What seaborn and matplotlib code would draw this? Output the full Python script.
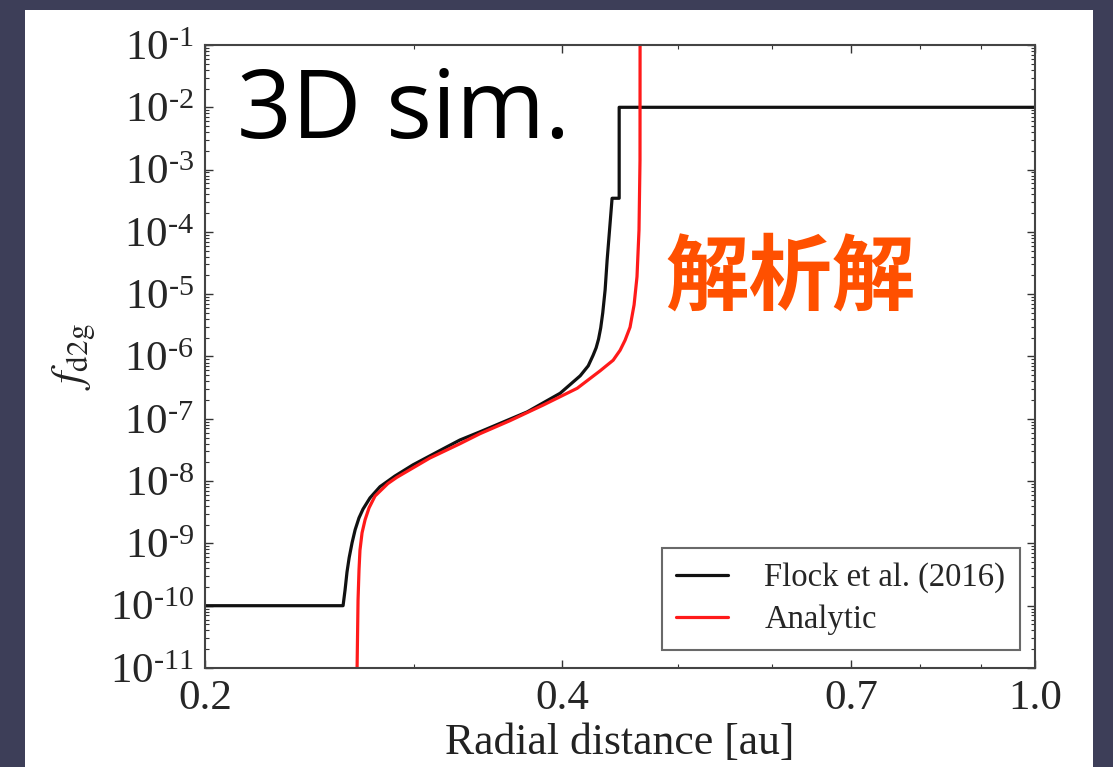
import numpy as np
import pandas as pd
import seaborn as sns
import matplotlib.pyplot as plt
from matplotlib.patches import Rectangle
from matplotlib.ticker import FixedLocator, FixedFormatter, LogLocator, NullFormatter

sns.set_style("ticks")
plt.rcParams['font.family'] = ['Liberation Serif', 'DejaVu Serif']
plt.rcParams['mathtext.fontset'] = 'stix'

# Flock et al. (2016) curve (r in au, log10 f_d2g)
flock_r = [0.2, 0.2614, 0.2624, 0.2634, 0.2645, 0.2660, 0.2676, 0.2696, 0.2717,
           0.2754, 0.2808, 0.2890, 0.2993, 0.3197, 0.3279, 0.3408, 0.3735, 0.3982,
           0.4140, 0.4205, 0.4245, 0.4270, 0.4290, 0.4308, 0.4325, 0.4345, 0.4362,
           0.4379, 0.4396, 0.4404, 0.4465, 0.4465, 1.0]
flock_logf = [-10, -10, -9.75, -9.46, -9.23, -8.99, -8.78, -8.59, -8.45,
              -8.27, -8.09, -7.92, -7.74, -7.45, -7.34, -7.21, -6.89, -6.59,
              -6.31, -6.15, -5.98, -5.86, -5.72, -5.54, -5.30, -4.93, -4.45,
              -4.05, -3.65, -3.46, -3.46, -2.0, -2.0]

# analytic solution
ana_r = [0.2686, 0.2686, 0.2691, 0.2696, 0.2701, 0.2712, 0.2728, 0.2749, 0.2781,
         0.2851, 0.2901, 0.3093, 0.3279, 0.3408, 0.3613, 0.3853, 0.4116, 0.4303,
         0.4413, 0.4473, 0.4516, 0.4560, 0.4596, 0.4622, 0.4640, 0.4649, 0.4650]
ana_logf = [-12, -11, -9.91, -9.43, -9.11, -8.83, -8.62, -8.43, -8.24,
            -8.04, -7.94, -7.63, -7.40, -7.24, -7.03, -6.78, -6.51, -6.23,
            -6.06, -5.90, -5.74, -5.53, -5.17, -4.72, -3.97, -2.85, 0.0]

x_ticks = [0.2, 0.4, 0.7, 1.0]
x_ticklabels = ['0.2', '0.4', '0.7', '1.0']
x_minor = [0.3, 0.5, 0.6, 0.8, 0.9]
y_exponents = list(range(-11, 0))

df = pd.concat([
    pd.DataFrame({'r': flock_r, 'f': np.power(10.0, flock_logf), 'src': 'Flock et al. (2016)'}),
    pd.DataFrame({'r': ana_r, 'f': np.power(10.0, ana_logf), 'src': 'Analytic'}),
], ignore_index=True)

fig = plt.figure(figsize=(11.13, 7.67), dpi=100)
fig.patch.set_facecolor('#3d3e58')
fig.add_artist(Rectangle((25 / 1113, 0), 1068 / 1113, 757 / 767, transform=fig.transFigure,
                         facecolor='white', edgecolor='none', zorder=0))

ax = fig.add_axes([205 / 1113, 1 - 668 / 767, 830 / 1113, 623 / 767])
sns.lineplot(data=df, x='r', y='f', hue='src', palette=['#111111', '#ff1a1a'],
             estimator=None, sort=False, linewidth=2.3, ax=ax)

ax.set_xscale('log')
ax.set_yscale('log')
ax.set_xlim(0.2, 1.0)
ax.set_ylim(1e-11, 1e-1)

ax.xaxis.set_major_locator(FixedLocator(x_ticks))
ax.xaxis.set_major_formatter(FixedFormatter(x_ticklabels))
ax.xaxis.set_minor_locator(FixedLocator(x_minor))
ax.xaxis.set_minor_formatter(NullFormatter())

# superscript with a short hyphen, like the original
ax.yaxis.set_major_locator(FixedLocator([10.0 ** e for e in y_exponents]))
ax.yaxis.set_major_formatter(FixedFormatter(['$\\mathregular{10^{\u2010%d}}$' % (-e) for e in y_exponents]))
ax.yaxis.set_minor_locator(LogLocator(base=10, subs=np.arange(2, 10), numticks=50))
ax.yaxis.set_minor_formatter(NullFormatter())

ax.tick_params(which='both', direction='in', top=True, right=True, color='#333333')
ax.tick_params(which='major', length=6, width=1.0, labelsize=31, pad=8)
ax.tick_params(which='minor', length=3, width=0.8)
for s in ax.spines.values():
    s.set_color('#444444')
    s.set_linewidth(1.5)

ax.set_xlabel('Radial distance [au]', fontsize=31.5, color='#222222', labelpad=4)
ax.set_ylabel('$f_{\\rm d2g}$', fontsize=32, color='#222222', labelpad=8)

leg = ax.legend(loc='lower right', fontsize=23.5, frameon=True, fancybox=False,
                handlelength=1.6, handletextpad=1.1, borderpad=0.45, labelspacing=0.35,
                borderaxespad=0, bbox_to_anchor=(0.982, 0.029), title=None)
leg.get_frame().set_edgecolor('#444444')
leg.get_frame().set_linewidth(1.5)
for line in leg.get_lines():
    line.set_linewidth(2.3)

ax.text(0.039, 0.85, '3D sim.', transform=ax.transAxes, fontsize=69,
        family=['Open Sans', 'DejaVu Sans'], color='black')
ax.text(0.555, 0.585, '解析解', transform=ax.transAxes, fontsize=60,
        family=['Noto Sans CJK JP', 'DejaVu Sans'], fontweight='bold', color='#ff5000')

fig.savefig('out.png', dpi=100, facecolor=fig.get_facecolor())
